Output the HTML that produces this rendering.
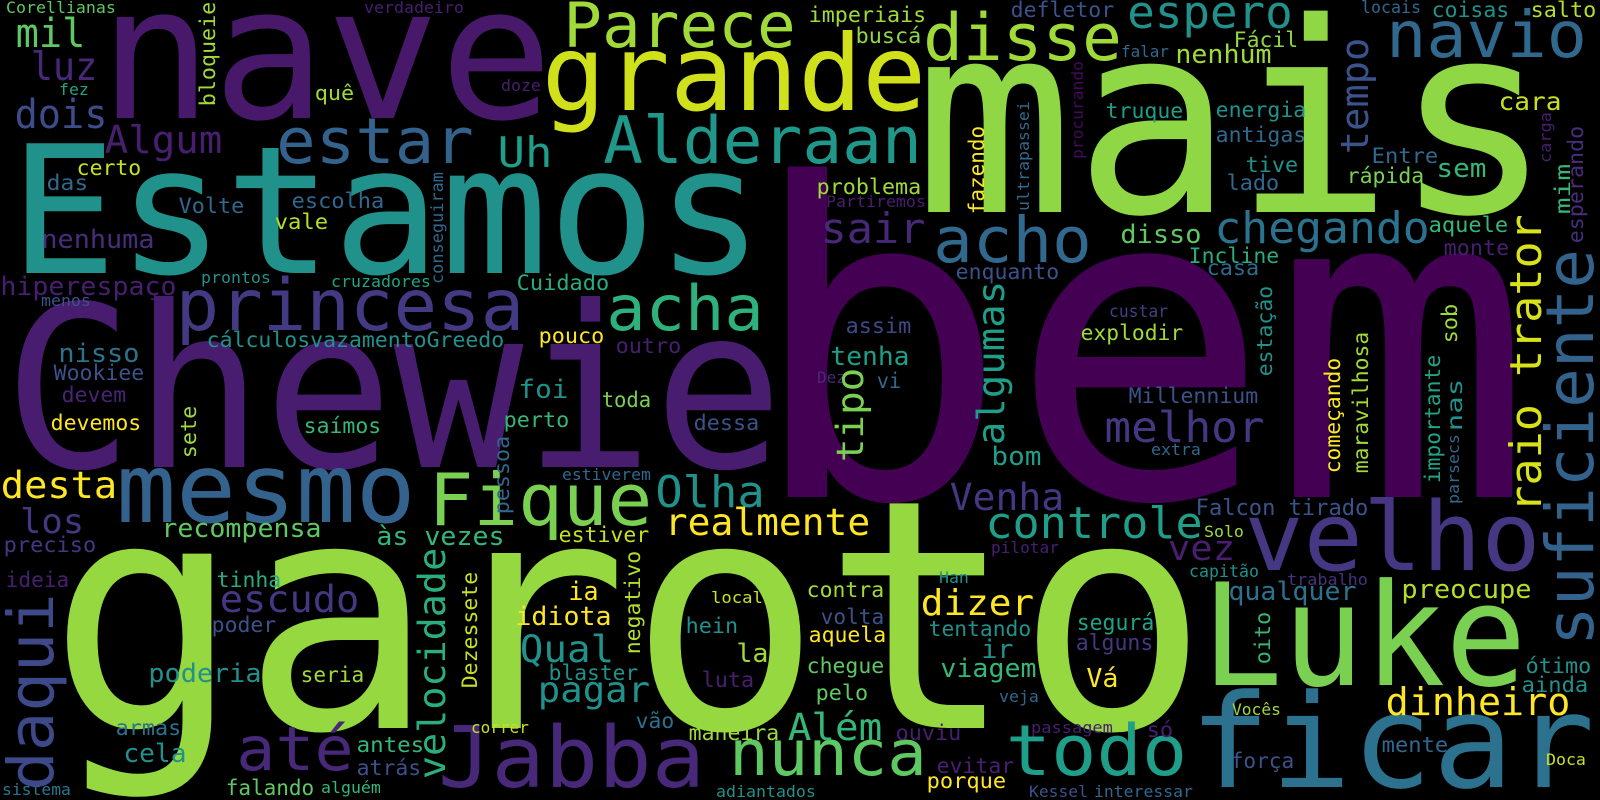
<!DOCTYPE html>
<html>
<head>
<meta charset="utf-8">
<style>
  html, body { margin: 0; padding: 0; background: #000; }
  #cloud { display: block; }
  #cloud text { font-family: "DejaVu Sans Mono", "Liberation Mono", monospace; }
</style>
</head>
<body>
<svg id="cloud" width="1600" height="800" viewBox="0 0 1600 800" xmlns="http://www.w3.org/2000/svg">
  <rect x="0" y="0" width="1600" height="800" fill="#000"></rect>
  <g id="words"></g>
</svg>
<script>
// Horizontal words: [text, left, right, baseline, fontSize, color]
const hWords = [
  ["bem", 773, 1507, 497, 435, "#440154"],
  ["garoto", 67, 1190, 728, 320, "#95d840"],
  ["mais", 930, 1537, 212, 265, "#8fd744"],
  ["Chewie", 17, 770, 467, 225, "#481c6e"],
  ["Estamos", 20, 753, 273, 178, "#21918c"],
  ["nave", 110, 542, 118, 185, "#48196b"],
  ["Luke", 1210, 1518, 685, 142, "#7ad151"],
  ["ficar", 1197, 1587, 787, 130, "#2c728e"],
  ["grande", 548, 920, 110, 105, "#d0e11c"],
  ["mesmo", 122, 410, 522, 96, "#33638d"],
  ["velho", 1250, 1535, 570, 95, "#453781"],
  ["Jabba", 443, 700, 787, 85, "#482878"],
  ["Fique", 433, 648, 525, 72, "#7ad151"],
  ["princesa", 180, 520, 330, 71, "#443983"],
  ["todo", 1010, 1183, 775, 70, "#1f9e89"],
  ["Alderaan", 607, 918, 163, 65, "#1f988b"],
  ["disse", 927, 1118, 60, 65, "#a0da39"],
  ["navio", 1390, 1583, 57, 64, "#31688e"],
  ["estar", 280, 470, 163, 63, "#33638d"],
  ["acho", 937, 1088, 262, 63, "#31688e"],
  ["nunca", 733, 923, 775, 63, "#5ec962"],
  ["acha", 610, 760, 330, 62, "#2db27d"],
  ["Parece", 567, 792, 47, 62, "#a0da39"],
  ["até", 240, 350, 770, 61, "#482878"],
  ["espero", 1130, 1290, 28, 45, "#21918c"],
  ["Olha", 658, 762, 507, 44, "#21918c"],
  ["chegando", 1217, 1427, 243, 44, "#2c728e"],
  ["controle", 988, 1200, 538, 44, "#1f9e89"],
  ["melhor", 1107, 1262, 442, 43, "#453781"],
  ["Uh", 500, 550, 167, 42, "#1f9e89"],
  ["sair", 823, 923, 243, 42, "#482878"],
  ["mil", 18, 83, 47, 40, "#5ec962"],
  ["dois", 17, 105, 128, 40, "#3e4c8a"],
  ["luz", 33, 95, 80, 39, "#482878"],
  ["Algum", 107, 220, 153, 38, "#481f70"],
  ["dinheiro", 1388, 1568, 715, 38, "#fde725"],
  ["desta", 3, 115, 498, 37, "#fde725"],
  ["escudo", 222, 357, 612, 37, "#453781"],
  ["Venha", 952, 1062, 510, 37, "#453781"],
  ["realmente", 667, 868, 535, 37, "#fde725"],
  ["Qual", 522, 612, 662, 37, "#21918c"],
  ["Além", 790, 880, 740, 37, "#35b779"],
  ["pagar", 540, 648, 702, 36, "#21918c"],
  ["dizer", 923, 1032, 615, 36, "#fde725"],
  ["vez", 1170, 1233, 560, 35, "#481f70"],
  ["los", 22, 82, 533, 34, "#453781"],
  ["nenhuma", 43, 153, 248, 26, "#472d7b"],
  ["hiperespaço", 2, 175, 295, 26, "#481f70"],
  ["nisso", 60, 138, 362, 26, "#2c728e"],
  ["foi", 520, 567, 398, 26, "#21918c"],
  ["recompensa", 163, 320, 537, 26, "#5ec962"],
  ["às vezes", 378, 503, 545, 26, "#35b779"],
  ["poderia", 150, 260, 682, 26, "#21918c"],
  ["cela", 125, 185, 762, 26, "#21918c"],
  ["ia", 570, 597, 600, 26, "#fde725"],
  ["idiota", 517, 610, 625, 26, "#fde725"],
  ["la", 738, 767, 662, 26, "#a0da39"],
  ["tenha", 832, 908, 365, 26, "#1f9e89"],
  ["disso", 1122, 1200, 243, 26, "#5ec962"],
  ["nenhum", 1177, 1270, 63, 26, "#a0da39"],
  ["sem", 1438, 1485, 177, 26, "#35b779"],
  ["cara", 1500, 1560, 110, 25, "#c8e020"],
  ["bom", 993, 1040, 465, 26, "#1f9e89"],
  ["ir", 983, 1012, 658, 26, "#21918c"],
  ["viagem", 942, 1035, 677, 26, "#35b779"],
  ["Vá", 1088, 1117, 687, 26, "#fde725"],
  ["qualquer", 1230, 1355, 600, 26, "#2c728e"],
  ["preocupe", 1403, 1530, 598, 26, "#b5de2b"],
  ["Falcon tirado", 1197, 1367, 515, 22, "#3b528b"],
  ["segurá", 1078, 1153, 630, 22, "#20a386"],
  ["alguns", 1077, 1152, 650, 22, "#453781"],
  ["cálculosvazamentoGreedo", 208, 503, 347, 21, "#21918c"],
  ["Cuidado", 518, 608, 290, 21, "#27ad81"],
  ["pouco", 540, 603, 343, 21, "#fde725"],
  ["outro", 617, 680, 353, 21, "#481f70"],
  ["toda", 603, 650, 407, 21, "#7ad151"],
  ["certo", 78, 140, 175, 21, "#c8e020"],
  ["das", 48, 87, 190, 21, "#31688e"],
  ["Volte", 180, 243, 213, 21, "#31688e"],
  ["escolha", 293, 383, 208, 21, "#31688e"],
  ["vale", 276, 327, 229, 21, "#b5de2b"],
  ["quê", 316, 353, 100, 20, "#a0da39"],
  ["Wookiee", 55, 143, 380, 21, "#3b528b"],
  ["devem", 63, 125, 402, 21, "#482475"],
  ["devemos", 52, 140, 430, 21, "#fde725"],
  ["saímos", 305, 380, 433, 21, "#35b779"],
  ["preciso", 5, 95, 552, 21, "#453781"],
  ["ideia", 7, 68, 587, 21, "#481f70"],
  ["tinha", 218, 280, 587, 21, "#27ad81"],
  ["poder", 213, 275, 632, 21, "#3b528b"],
  ["seria", 302, 363, 682, 21, "#a0da39"],
  ["armas", 117, 180, 735, 21, "#2c728e"],
  ["antes", 358, 423, 752, 21, "#35b779"],
  ["atrás", 358, 420, 775, 21, "#3b528b"],
  ["falando", 227, 313, 795, 21, "#5ec962"],
  ["perto", 505, 568, 427, 21, "#35b779"],
  ["dessa", 695, 758, 430, 21, "#3b528b"],
  ["estiver", 560, 648, 542, 21, "#c8e020"],
  ["hein", 687, 737, 633, 21, "#21918c"],
  ["blaster", 550, 637, 680, 21, "#21918c"],
  ["luta", 703, 753, 687, 21, "#481f70"],
  ["vão", 637, 673, 728, 21, "#2c728e"],
  ["maneira", 690, 778, 740, 21, "#a0da39"],
  ["imperiais", 810, 925, 22, 21, "#a0da39"],
  ["buscá", 857, 920, 43, 21, "#8fd744"],
  ["defletor", 1012, 1113, 17, 21, "#3b528b"],
  ["Fácil", 1235, 1297, 47, 21, "#8fd744"],
  ["truque", 1107, 1182, 118, 21, "#1f9e89"],
  ["problema", 818, 920, 194, 21, "#a0da39"],
  ["Incline", 1190, 1278, 263, 21, "#27ad81"],
  ["casa", 1208, 1258, 275, 21, "#31688e"],
  ["enquanto", 957, 1058, 279, 21, "#3b528b"],
  ["assim", 847, 910, 333, 21, "#3e4989"],
  ["explodir", 1082, 1182, 340, 21, "#a0da39"],
  ["vi", 878, 900, 388, 21, "#31688e"],
  ["Millennium", 1130, 1257, 403, 21, "#3b528b"],
  ["coisas", 1433, 1508, 17, 21, "#21918c"],
  ["salto", 1532, 1595, 17, 21, "#b5de2b"],
  ["energia", 1217, 1305, 117, 21, "#21918c"],
  ["antigas", 1217, 1305, 142, 21, "#31688e"],
  ["tive", 1247, 1297, 172, 21, "#21918c"],
  ["lado", 1228, 1278, 190, 21, "#31688e"],
  ["Entre", 1373, 1437, 163, 21, "#31688e"],
  ["rápida", 1348, 1423, 183, 21, "#7ad151"],
  ["aquele", 1430, 1507, 232, 21, "#35b779"],
  ["monte", 1445, 1508, 255, 21, "#481f70"],
  ["contra", 808, 883, 597, 21, "#a0da39"],
  ["volta", 822, 883, 624, 21, "#3b528b"],
  ["tentando", 930, 1030, 636, 21, "#21918c"],
  ["aquela", 810, 885, 642, 21, "#fde725"],
  ["chegue", 808, 883, 673, 21, "#5ec962"],
  ["pelo", 817, 867, 700, 21, "#5ec962"],
  ["ouviu", 897, 960, 740, 21, "#481f70"],
  ["evitar", 938, 1013, 773, 21, "#481f70"],
  ["porque", 928, 1005, 788, 21, "#fde725"],
  ["só", 1148, 1172, 737, 21, "#481f70"],
  ["ótimo", 1527, 1590, 673, 21, "#21918c"],
  ["ainda", 1523, 1587, 692, 21, "#21918c"],
  ["mente", 1383, 1447, 752, 21, "#31688e"],
  ["força", 1232, 1293, 768, 21, "#3b528b"],
  ["Corellianas", 7, 115, 13, 16, "#5ec962"],
  ["verdadeiro", 365, 463, 13, 16, "#481f70"],
  ["fez", 60, 88, 95, 16, "#20a386"],
  ["doze", 502, 540, 91, 16, "#481f70"],
  ["menos", 42, 90, 306, 16, "#3b528b"],
  ["prontos", 202, 270, 283, 16, "#21918c"],
  ["cruzadores", 332, 430, 287, 16, "#20a386"],
  ["falar", 1122, 1168, 57, 16, "#31688e"],
  ["Partiremos", 827, 925, 207, 16, "#481f70"],
  ["custar", 1110, 1167, 317, 17, "#423f85"],
  ["Dez", 818, 845, 383, 16, "#482878"],
  ["locais", 1362, 1420, 13, 17, "#31688e"],
  ["extra", 1152, 1200, 455, 16, "#31688e"],
  ["Solo", 1205, 1243, 537, 16, "#a0da39"],
  ["capitão", 1190, 1258, 577, 17, "#21918c"],
  ["trabalho", 1288, 1367, 585, 16, "#46337f"],
  ["estiverem", 563, 650, 480, 16, "#31688e"],
  ["local", 712, 762, 603, 16, "#c8e020"],
  ["correr", 472, 528, 733, 16, "#c8e020"],
  ["pilotar", 992, 1058, 553, 16, "#481f70"],
  ["Han", 940, 968, 583, 16, "#21918c"],
  ["veja", 1000, 1038, 702, 16, "#31688e"],
  ["passagem", 1032, 1112, 733, 16, "#481f70"],
  ["adiantados", 717, 815, 797, 16, "#21918c"],
  ["Kessel", 1030, 1087, 797, 16, "#3b528b"],
  ["interessar", 1095, 1192, 797, 16, "#31688e"],
  ["Vocês", 1233, 1280, 715, 16, "#a0da39"],
  ["Doca", 1547, 1585, 765, 16, "#c8e020"],
  ["alguém", 322, 380, 793, 16, "#35b779"],
  ["sistema", 3, 70, 795, 16, "#2a788e"]
];
// Vertical words (read bottom-to-top): [text, baselineX, bottomY, topY, fontSize, color]
const vWords = [
  ["suficiente", 1593, 642, 253, 66, "#33638d"],
  ["daqui", 53, 787, 597, 63, "#3e4989"],
  ["raio trator", 1541, 510, 217, 44, "#d8e219"],
  ["tempo", 1368, 152, 40, 38, "#3b528b"],
  ["algumas", 1004, 443, 283, 37, "#1f9e89"],
  ["tipo", 863, 460, 370, 37, "#7ad151"],
  ["velocidade", 445, 777, 550, 37, "#29af7f"],
  ["bloqueie", 215, 105, 3, 21, "#a0da39"],
  ["fazendo", 984, 213, 127, 21, "#fde725"],
  ["Dezessete", 477, 687, 573, 21, "#c8e020"],
  ["negativo", 640, 653, 552, 21, "#b5de2b"],
  ["pessoa", 509, 513, 437, 21, "#31688e"],
  ["sete", 196, 457, 407, 21, "#a0da39"],
  ["estação", 1272, 375, 287, 21, "#21918c"],
  ["sob", 1457, 342, 305, 21, "#a0da39"],
  ["começando", 1340, 472, 359, 21, "#fde725"],
  ["maravilhosa", 1368, 472, 333, 21, "#a0da39"],
  ["importante", 1440, 482, 356, 21, "#20a386"],
  ["nas", 1462, 430, 380, 21, "#21918c"],
  ["mim", 1570, 213, 165, 21, "#35b779"],
  ["esperando", 1583, 242, 127, 21, "#472d7b"],
  ["oito", 1270, 663, 613, 21, "#35b779"],
  ["conseguiram", 443, 283, 173, 17, "#31688e"],
  ["procurando", 1083, 158, 62, 16, "#46085c"],
  ["ultrapassei", 1029, 210, 102, 16, "#31688e"],
  ["carga", 1551, 162, 113, 16, "#481f70"],
  ["parsecs", 1459, 503, 435, 16, "#31688e"]
];

const NS = "http://www.w3.org/2000/svg";
const group = document.getElementById("words");

function slug(s) {
  return s.normalize("NFD").replace(/[\u0300-\u036f]/g, "").toLowerCase().replace(/[^a-z0-9]+/g, "-");
}

hWords.forEach(function (w) {
  const t = document.createElementNS(NS, "text");
  const s = w[4];
  const pad = 0.06 * s;
  t.setAttribute("x", (w[1] - pad).toFixed(1));
  t.setAttribute("y", w[3]);
  t.setAttribute("font-size", s);
  t.setAttribute("fill", w[5]);
  t.setAttribute("textLength", (w[2] - w[1] + 2 * pad).toFixed(1));
  t.setAttribute("lengthAdjust", "spacingAndGlyphs");
  
  
  t.textContent = w[0];
  group.appendChild(t);
});

vWords.forEach(function (w) {
  const t = document.createElementNS(NS, "text");
  const s = w[4];
  const pad = 0.06 * s;
  t.setAttribute("transform", "translate(" + w[1] + "," + w[2] + ") rotate(-90)");
  t.setAttribute("x", (-pad).toFixed(1));
  t.setAttribute("y", 0);
  t.setAttribute("font-size", s);
  t.setAttribute("fill", w[5]);
  t.setAttribute("textLength", (w[2] - w[3] + 2 * pad).toFixed(1));
  t.setAttribute("lengthAdjust", "spacingAndGlyphs");
  
  
  t.textContent = w[0];
  group.appendChild(t);
});
</script>
</body>
</html>
